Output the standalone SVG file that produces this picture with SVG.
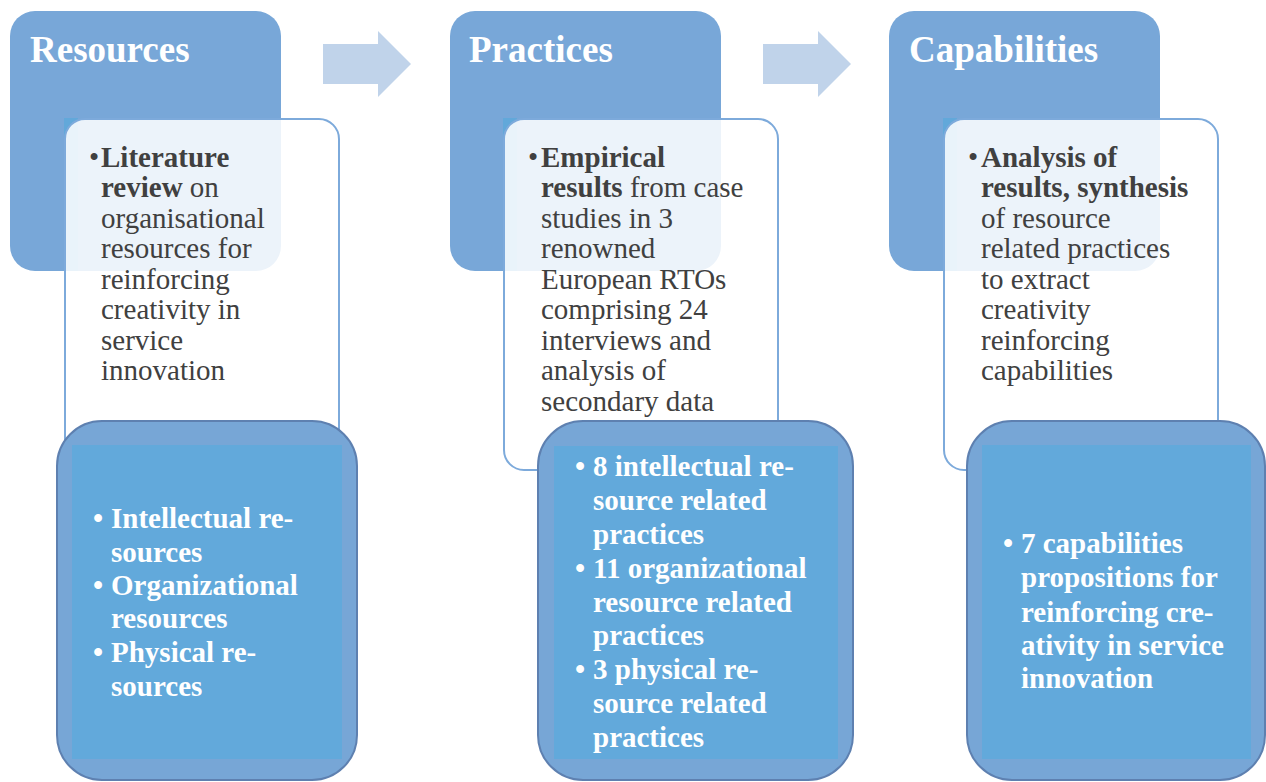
<svg xmlns="http://www.w3.org/2000/svg" width="1266" height="782" viewBox="0 0 1266 782">
<style>
.head{fill:#78A7D8}
.strip{fill:#62A8DA}
.card{fill:#FFFFFF;fill-opacity:0.86;stroke:#7DAADB;stroke-width:2}
.outer{fill:#77A6D6;stroke:#5E80B0;stroke-width:2}
.inner{fill:#62A9DB}
.arrow{fill:#C0D3EA}
text{font-family:'Liberation Serif','Times New Roman',serif}
.title{font-weight:bold;font-size:37px;fill:#FFFFFF}
.body{font-size:29px;fill:#404040}
.list{font-weight:bold;font-size:29px;fill:#FFFFFF}
.b{font-weight:bold}
</style>
<g id="connectors">
<path class="arrow" d="M323,44 H378 V31 L411,64 L378,97 V84 H323 Z"/>
<path class="arrow" d="M763,44 H818 V31 L851,64 L818,97 V84 H763 Z"/>
</g>
<g id="resources">
<rect class="head" x="10" y="11" width="271" height="260" rx="25"/>
<text class="title" x="30" y="62">Resources</text>
<rect class="strip" x="64" y="118" width="14" height="153"/>
<rect class="card" x="65" y="119" width="274" height="351" rx="20"/>
<text class="body"><tspan x="89" y="167">•</tspan><tspan x="101" y="167" class="b">Literature</tspan><tspan x="101" y="197"><tspan class="b">review</tspan> on</tspan><tspan x="101" y="228">organisational</tspan><tspan x="101" y="258">resources for</tspan><tspan x="101" y="289">reinforcing</tspan><tspan x="101" y="319">creativity in</tspan><tspan x="101" y="350">service</tspan><tspan x="101" y="380">innovation</tspan></text>
<rect class="outer" x="57" y="421" width="300" height="359" rx="45"/>
<rect class="inner" x="72" y="445" width="270" height="314"/>
<text class="list"><tspan x="93" y="528">•</tspan><tspan x="111" y="528">Intellectual re-</tspan><tspan x="111" y="562">sources</tspan><tspan x="93" y="595">•</tspan><tspan x="111" y="595">Organizational</tspan><tspan x="111" y="628">resources</tspan><tspan x="93" y="662">•</tspan><tspan x="111" y="662">Physical re-</tspan><tspan x="111" y="696">sources</tspan></text>
</g>
<g id="practices">
<rect class="head" x="450" y="11" width="271" height="260" rx="25"/>
<text class="title" x="469" y="62">Practices</text>
<rect class="strip" x="503" y="118" width="14" height="153"/>
<rect class="card" x="504" y="119" width="274" height="351" rx="20"/>
<text class="body"><tspan x="528" y="167">•</tspan><tspan x="541" y="167" class="b">Empirical</tspan><tspan x="541" y="197"><tspan class="b">results</tspan> from case</tspan><tspan x="541" y="228">studies in 3</tspan><tspan x="541" y="258">renowned</tspan><tspan x="541" y="289">European RTOs</tspan><tspan x="541" y="319">comprising 24</tspan><tspan x="541" y="350">interviews and</tspan><tspan x="541" y="380">analysis of</tspan><tspan x="541" y="411">secondary data</tspan></text>
<rect class="outer" x="538" y="421" width="315" height="359" rx="45"/>
<rect class="inner" x="554" y="446" width="284" height="313"/>
<text class="list"><tspan x="575" y="476">•</tspan><tspan x="593" y="476">8 intellectual re-</tspan><tspan x="593" y="510">source related</tspan><tspan x="593" y="544">practices</tspan><tspan x="575" y="578">•</tspan><tspan x="593" y="578">11 organizational</tspan><tspan x="593" y="612">resource related</tspan><tspan x="593" y="645">practices</tspan><tspan x="575" y="679">•</tspan><tspan x="593" y="679">3 physical re-</tspan><tspan x="593" y="713">source related</tspan><tspan x="593" y="747">practices</tspan></text>
</g>
<g id="capabilities">
<rect class="head" x="889" y="11" width="271" height="260" rx="25"/>
<text class="title" x="909" y="62">Capabilities</text>
<rect class="strip" x="943" y="118" width="14" height="153"/>
<rect class="card" x="944" y="119" width="274" height="351" rx="20"/>
<text class="body"><tspan x="968" y="167">•</tspan><tspan x="981" y="167" class="b">Analysis of</tspan><tspan x="981" y="197" class="b">results, synthesis</tspan><tspan x="981" y="228">of resource</tspan><tspan x="981" y="258">related practices</tspan><tspan x="981" y="289">to extract</tspan><tspan x="981" y="319">creativity</tspan><tspan x="981" y="350">reinforcing</tspan><tspan x="981" y="380">capabilities</tspan></text>
<rect class="outer" x="967" y="421" width="298" height="359" rx="45"/>
<rect class="inner" x="982" y="445" width="269" height="314"/>
<text class="list"><tspan x="1003" y="553">•</tspan><tspan x="1021" y="553">7 capabilities</tspan><tspan x="1021" y="587">propositions for</tspan><tspan x="1021" y="622">reinforcing cre-</tspan><tspan x="1021" y="655">ativity in service</tspan><tspan x="1021" y="688">innovation</tspan></text>
</g>
</svg>
